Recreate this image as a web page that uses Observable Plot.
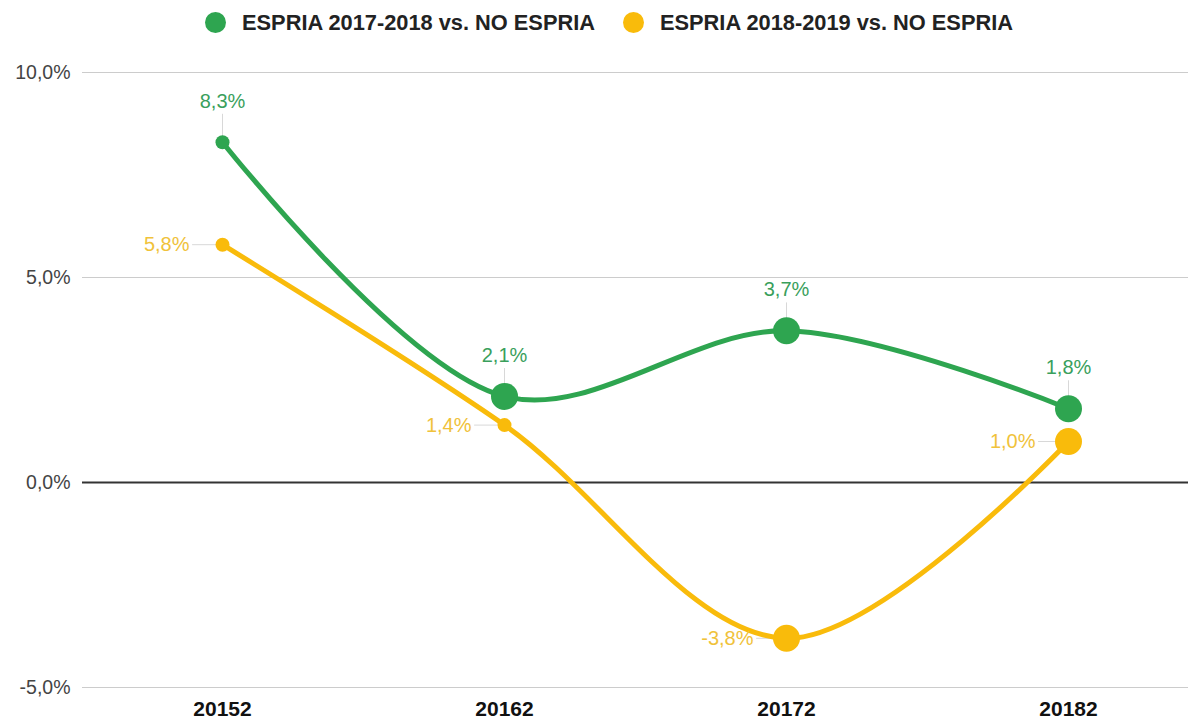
<!DOCTYPE html>
<html>
<head>
<meta charset="utf-8">
<script src="https://cdn.jsdelivr.net/npm/d3@7"></script>
<script src="https://cdn.jsdelivr.net/npm/@observablehq/plot@0.6"></script>
<style>
  html, body { margin: 0; padding: 0; background: #fff; }
  body { width: 1198px; height: 721px; overflow: hidden; font-family: "Liberation Sans", Arial, sans-serif; }
  #legend { height: 45px; display: flex; align-items: center; justify-content: center; gap: 28px; padding-left: 20px; box-sizing: border-box; }
  .item { display: flex; align-items: center; font-weight: bold; font-size: 21.8px; color: #222; }
  .sw { width: 21px; height: 21px; border-radius: 50%; margin-right: 16px; }
</style>
</head>
<body>
<div id="legend"></div>
<div id="chart"></div>
<script>
// ---- data ----
const periods = ["20152", "20162", "20172", "20182"];
const seriesNames = ["ESPRIA 2017-2018 vs. NO ESPRIA", "ESPRIA 2018-2019 vs. NO ESPRIA"];
const espria1718 = [8.3, 2.1, 3.7, 1.8];
const espria1819 = [5.8, 1.4, -3.8, 1.0];
const yTicks = [-5, 0, 5, 10];

// ---- styles ----
const colors = ["#2ea550", "#f9bb0b"];
const labelColors = ["#3a9f5c", "#f0c23a"];

const locale = d3.formatLocale({decimal: ",", thousands: ".", grouping: [3], currency: ["", "€"], minus: "-"});
const f1 = locale.format(".1f");
const pct = v => f1(v) + "%";

const rows = [];
[espria1718, espria1819].forEach((vals, s) => {
  vals.forEach((v, i) => rows.push({series: seriesNames[s], s, period: periods[i], i, v}));
});
// marker radius: small for the first period (and the yellow 20162 point), large elsewhere
const radius = d => (d.i === 0 || (d.i === 1 && d.s === 1)) ? 7 : 13.5;

const green = rows.filter(d => d.s === 0);
const yellow = rows.filter(d => d.s === 1);

const leaderShape = { draw(ctx, l) { ctx.moveTo(0, 0); ctx.lineTo(0, -l); } };

// legend
const leg = document.getElementById("legend");
seriesNames.forEach((n, k) => {
  const it = document.createElement("div");
  it.className = "item";
  it.innerHTML = `<span class="sw" style="background:${colors[k]}"></span><span>${n}</span>`;
  leg.appendChild(it);
});

const chart = Plot.plot({
  width: 1198,
  height: 676,
  marginLeft: 82,
  marginRight: 10,
  marginTop: 27,
  marginBottom: 34,
  style: { fontFamily: "'Liberation Sans', Arial, sans-serif", background: "#fff" },
  x: { type: "point", domain: periods, range: [221, 1069], padding: 0, label: null },
  y: { domain: [-5, 10], label: null },
  r: { type: "identity" },
  marks: [
    Plot.ruleY(yTicks.filter(t => t !== 0), { stroke: "#cccccc", strokeWidth: 1 }),
    Plot.ruleY([0], { stroke: "#333", strokeWidth: 2 }),
    Plot.axisY(yTicks, { tickSize: 0, tickPadding: 12, tickFormat: pct, fontSize: 19.5, fill: "#444", label: null }),
    Plot.axisX({ tickSize: 0, tickPadding: 14, fontSize: 21, fontWeight: "bold", fill: "#111", label: null }),
    // leader lines
    Plot.vector(green, { x: "period", y: "v", length: 28, rotate: 0, anchor: "start", shape: leaderShape, stroke: "#d8d8d8", strokeWidth: 1 }),
    Plot.vector(yellow, { x: "period", y: "v", length: 30, rotate: 270, anchor: "start", shape: leaderShape, stroke: "#d8d8d8", strokeWidth: 1 }),
    // lines
    Plot.line(rows, { x: "period", y: "v", z: "series", stroke: d => colors[d.s], strokeWidth: 5, curve: "catmull-rom" }),
    Plot.dot(rows, { x: "period", y: "v", r: radius, fill: d => colors[d.s], stroke: "none" }),
    // labels
    Plot.text(green, { x: "period", y: "v", text: d => pct(d.v), dy: -41, fill: labelColors[0], fontSize: 20 }),
    Plot.text(yellow, { x: "period", y: "v", text: d => pct(d.v), dx: -33, textAnchor: "end", fill: labelColors[1], fontSize: 20 })
  ]
});
document.getElementById("chart").appendChild(chart);
</script>
</body>
</html>
